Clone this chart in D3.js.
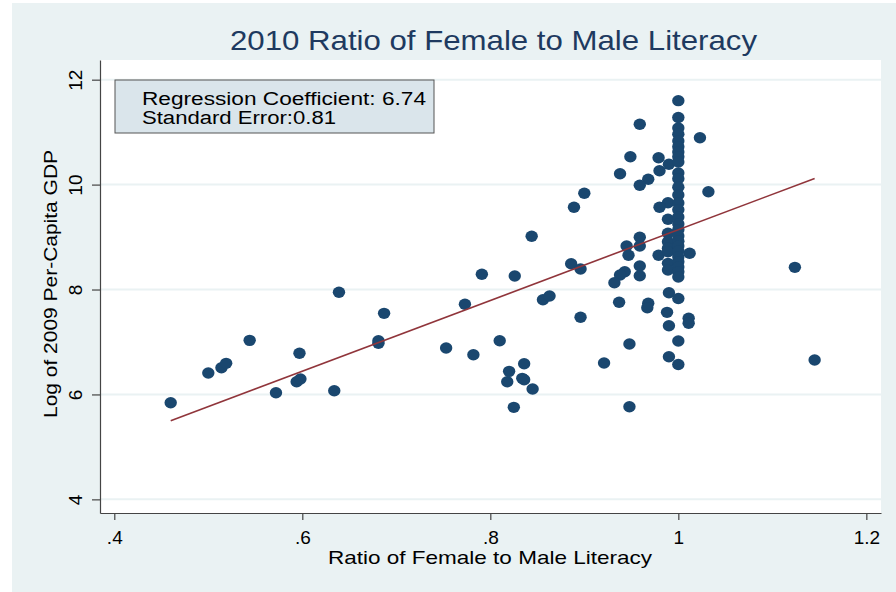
<!DOCTYPE html>
<html><head><meta charset="utf-8">
<script src="https://cdn.jsdelivr.net/npm/d3@7"></script>
<style>
html,body{margin:0;padding:0;background:#fff;}
svg{display:block;font-family:"Liberation Sans",Arial,sans-serif;}
</style></head>
<body>
<svg id="chart" width="896" height="592"></svg>
<script>
// ---- data ----
const title = "2010 Ratio of Female to Male Literacy";
const xLabel = "Ratio of Female to Male Literacy";
const yLabel = "Log of 2009 Per-Capita GDP";
const legendLines = ["Regression Coefficient: 6.74", "Standard Error:0.81"];
const xTicks = [0.4, 0.6, 0.8, 1.0, 1.2];
const yTicks = [4, 6, 8, 10, 12];
// literacy ratio (x) and log GDP (y)
const ratio = [
  0.460,0.500,0.514,0.519,0.544,0.572,0.597,0.594,0.598,0.634,0.639,0.687,0.681,0.681,
  0.889,0.844,0.886,0.896,0.791,0.826,0.856,0.863,0.773,0.896,0.753,0.782,0.810,0.836,0.820,0.818,0.834,0.836,0.845,0.825,
  0.921,0.948,0.948,0.900,0.938,0.949,0.959,0.979,0.980,0.990,0.968,0.959,1.023,1.032,
  0.989,0.980,0.989,0.989,0.959,0.959,0.945,0.947,0.979,0.989,0.989,0.989,1.012,0.989,0.989,0.959,0.943,0.938,0.932,0.959,
  0.990,0.937,0.968,0.967,0.988,1.011,1.011,0.990,0.990,1.124,1.145,
  1.000,1.000,1.000,1.000,1.000,1.000,1.000,1.000,1.000,1.000,1.000,1.000,1.000,1.000,1.000,
  1.000,1.000,1.000,1.000,1.000,1.000,1.000,1.000,1.000,1.000,1.000,1.000,1.000,1.000,1.000
];
const logGdp = [
  5.842,6.408,6.509,6.593,7.031,6.032,6.784,6.242,6.294,6.071,7.947,7.546,7.024,6.974,
  9.567,9.014,8.492,8.391,8.290,8.257,7.806,7.876,7.718,7.470,6.885,6.757,7.024,6.585,6.440,6.242,6.307,6.280,6.103,5.754,
  6.600,5.765,6.961,9.834,10.208,10.532,11.150,10.513,10.265,10.387,10.101,9.987,10.894,9.865,
  9.655,9.567,9.338,9.072,8.995,8.829,8.829,8.652,8.652,8.911,8.786,8.721,8.690,8.499,8.372,8.448,8.339,8.276,8.130,8.263,
  7.939,7.756,7.737,7.653,7.565,7.451,7.356,7.310,6.719,8.423,6.656,
  11.60,11.28,11.08,10.96,10.83,10.72,10.62,10.53,10.43,10.22,10.11,9.95,9.80,9.65,9.52,
  9.38,9.25,9.14,9.02,8.92,8.83,8.73,8.62,8.53,8.43,8.34,8.24,7.83,7.02,6.57
];
const fitX = [0.46, 1.145];
const fitIntercept = 2.40;
const fitSlope = 6.74;

// ---- drawing ----
const svg = d3.select("#chart");
const font = '"Liberation Sans",Arial,sans-serif';
const L = 100, R = 881, T = 60, B = 513;

svg.append("rect").attr("x",12).attr("y",3).attr("width",884).attr("height",589).attr("fill","#eaf2f3");
svg.append("rect").attr("x",L).attr("y",T).attr("width",R-L).attr("height",B-T).attr("fill","#ffffff");

const x = d3.scaleLinear().domain([0.3848, 1.2156]).range([L, R]);
const y = d3.scaleLinear().domain([3.74, 12.375]).range([B, T]);

// gridlines
svg.append("g").selectAll("line").data(yTicks).join("line")
  .attr("x1", L).attr("x2", R)
  .attr("y1", d => y(d)).attr("y2", d => y(d))
  .attr("stroke", "#eaf2f3").attr("stroke-width", 2);

// axes
const fmtX = d => String(d).replace(/^0\./, ".");
const xAxis = svg.append("g").attr("transform", `translate(0,${B})`)
  .call(d3.axisBottom(x).tickValues(xTicks).tickFormat(fmtX).tickSize(7).tickSizeOuter(0));
xAxis.selectAll("text").attr("y", 31).attr("dy", 0).attr("font-size", 19)
  .attr("font-family", font).attr("fill", "#000");
const yAxis = svg.append("g").attr("transform", `translate(${L},0)`)
  .call(d3.axisLeft(y).tickValues(yTicks).tickSize(8).tickSizeOuter(0));
yAxis.selectAll("text").attr("transform", "rotate(-90)").attr("x", 0).attr("y", -18)
  .attr("dy", 0).attr("text-anchor", "middle").attr("font-size", 19)
  .attr("font-family", font).attr("fill", "#000");
[xAxis, yAxis].forEach(a => {
  a.select(".domain").attr("stroke", "#444").attr("stroke-width", 1.2);
  a.selectAll(".tick line").attr("stroke", "#444").attr("stroke-width", 1.2);
});

// points
const pts = ratio.map((r, i) => ({x: r, y: logGdp[i]}));
svg.append("g").selectAll("ellipse").data(pts).join("ellipse")
  .attr("cx", d => x(d.x)).attr("cy", d => y(d.y))
  .attr("rx", 6.2).attr("ry", 5.7)
  .attr("fill", "#1a476f");

// fitted line
svg.append("line")
  .attr("x1", x(fitX[0])).attr("y1", y(fitIntercept + fitSlope * fitX[0]))
  .attr("x2", x(fitX[1])).attr("y2", y(fitIntercept + fitSlope * fitX[1]))
  .attr("stroke", "#90353b").attr("stroke-width", 1.6);

// legend box
svg.append("rect").attr("x", 115).attr("y", 80).attr("width", 319).attr("height", 53)
  .attr("fill", "#dae5eb").attr("stroke", "#555").attr("stroke-width", 1);
const legendWidths = [284, 194];
svg.append("g").selectAll("text").data(legendLines).join("text")
  .attr("x", 142).attr("y", (d, i) => 105 + i * 19)
  .attr("font-size", 18).attr("font-family", font).attr("fill", "#000")
  .attr("textLength", (d, i) => legendWidths[i]).attr("lengthAdjust", "spacingAndGlyphs")
  .text(d => d);

// title
svg.append("text").attr("x", 493.5).attr("y", 50).attr("text-anchor", "middle")
  .attr("font-size", 28).attr("font-family", font).attr("fill", "#1e3a60")
  .attr("textLength", 527).attr("lengthAdjust", "spacingAndGlyphs").text(title);

// axis titles
svg.append("text").attr("x", 490).attr("y", 564).attr("text-anchor", "middle")
  .attr("font-size", 19).attr("font-family", font).attr("fill", "#000")
  .attr("textLength", 324).attr("lengthAdjust", "spacingAndGlyphs").text(xLabel);
svg.append("text").attr("transform", "translate(57,284) rotate(-90)").attr("text-anchor", "middle")
  .attr("font-size", 19).attr("font-family", font).attr("fill", "#000")
  .attr("textLength", 268).attr("lengthAdjust", "spacingAndGlyphs").text(yLabel);
</script>
</body></html>
